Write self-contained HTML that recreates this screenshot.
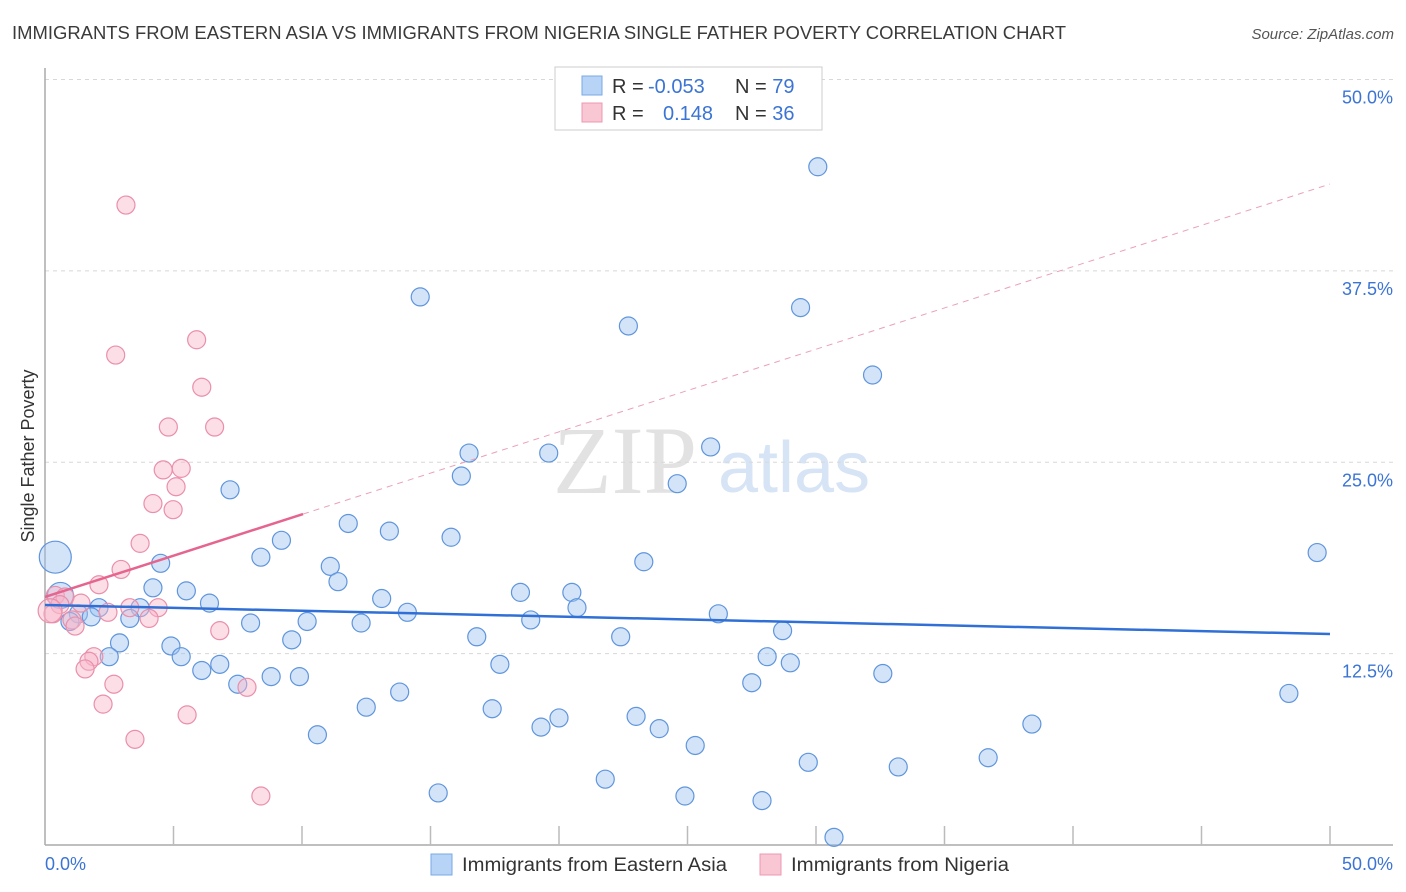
<!DOCTYPE html>
<html><head><meta charset="utf-8"><style>
body{margin:0;background:#fff;font-family:"Liberation Sans",sans-serif;}
svg{display:block}
</style></head><body>
<svg id="chart" width="1406" height="892" xmlns="http://www.w3.org/2000/svg">
<text x="12" y="39" font-size="18" fill="#3a3a3a" textLength="1054" lengthAdjust="spacingAndGlyphs">IMMIGRANTS FROM EASTERN ASIA VS IMMIGRANTS FROM NIGERIA SINGLE FATHER POVERTY CORRELATION CHART</text>
<text x="1394" y="39" font-size="15" font-style="italic" fill="#555" text-anchor="end">Source: ZipAtlas.com</text>
<g>
<text x="553" y="493" font-size="96" font-family="Liberation Serif,serif" fill="#e2e2e2">ZIP</text>
<text x="718" y="492" font-size="72" fill="#d6e4f5">atlas</text>
</g>
<g id="grid"></g>
<g id="axes"></g>
<g id="pts"></g>
<g id="trend"></g>
<text transform="translate(34,456) rotate(-90)" font-size="18" fill="#333" text-anchor="middle">Single Father Poverty</text>
<g>
<rect x="555" y="67" width="267" height="63" fill="#fff" stroke="#ccc"/>
<rect x="582" y="76" width="20" height="19" fill="#b7d3f5" stroke="#7aa8e6"/>
<rect x="582" y="103" width="20" height="19" fill="#f9c6d4" stroke="#ec98b2"/>
<text x="612" y="93" font-size="20" fill="#333">R = <tspan fill="#3b74d4" x="648">-0.053</tspan></text>
<text x="735" y="93" font-size="20" fill="#333">N = <tspan fill="#3b74d4">79</tspan></text>
<text x="612" y="120" font-size="20" fill="#333">R = <tspan fill="#3b74d4" x="663">0.148</tspan></text>
<text x="735" y="120" font-size="20" fill="#333">N = <tspan fill="#3b74d4">36</tspan></text>
</g>
<g>
<rect x="431" y="854" width="21" height="21" fill="#b7d3f5" stroke="#7aa8e6"/>
<text x="462" y="871" font-size="19" fill="#333" textLength="265" lengthAdjust="spacingAndGlyphs">Immigrants from Eastern Asia</text>
<rect x="760" y="854" width="21" height="21" fill="#f9c6d4" stroke="#ec98b2"/>
<text x="791" y="871" font-size="19" fill="#333" textLength="218" lengthAdjust="spacingAndGlyphs">Immigrants from Nigeria</text>
</g>
</svg>
<script>
const yTicks=[12.5,25,37.5,50];
const yTickLabels=["12.5%","25.0%","37.5%","50.0%"];
const xTickLabels=["0.0%","50.0%"];
const blueX=[30.07,14.6,22.7,29.4,32.2,16.5,19.6,25.9,16.2,24.6,7.2,11.8,13.4,15.8,9.2,8.4,4.5,23.3,49.5,11.1,11.4,4.2,5.5,18.5,20.5,13.1,6.4,20.7,3.7,2.1,14.1,26.2,3.3,1.3,1.8,0.97,8.0,10.2,12.3,18.9,28.7,16.8,22.4,9.6,2.9,4.9,2.5,5.3,28.1,29.0,6.8,6.1,17.7,32.6,8.8,9.9,7.5,27.5,48.4,13.8,12.5,17.4,20.0,23.0,19.3,23.9,38.4,10.6,25.3,36.7,29.7,33.2,21.8,15.3,24.9,27.9,30.7,0.4,0.6];
const blueY=[44.3,35.8,33.9,35.1,30.7,25.6,25.6,26.0,24.1,23.6,23.2,21.0,20.5,20.1,19.9,18.8,18.4,18.5,19.1,18.2,17.2,16.8,16.6,16.5,16.5,16.1,15.8,15.5,15.5,15.5,15.2,15.1,14.8,15.1,14.9,14.6,14.5,14.6,14.5,14.7,14.0,13.6,13.6,13.4,13.2,13.0,12.3,12.3,12.3,11.9,11.8,11.4,11.8,11.2,11.0,11.0,10.5,10.6,9.9,9.99,9.0,8.9,8.3,8.4,7.7,7.6,7.9,7.2,6.5,5.7,5.4,5.1,4.3,3.4,3.2,2.9,0.5,18.8,16.3];
const blueR=[9,9,9,9,9,9,9,9,9,9,9,9,9,9,9,9,9,9,9,9,9,9,9,9,9,9,9,9,9,9,9,9,9,9,9,9,9,9,9,9,9,9,9,9,9,9,9,9,9,9,9,9,9,9,9,9,9,9,9,9,9,9,9,9,9,9,9,9,9,9,9,9,9,9,9,9,9,16,13];
const pinkX=[3.15,5.9,2.75,6.1,4.8,6.6,4.6,5.3,5.1,4.2,4.985,3.7,2.96,2.1,0.4,0.78,1.4,0.58,0.31,3.3,4.4,4.05,1.05,2.45,1.17,6.8,1.9,1.71,1.56,2.68,2.26,5.53,7.86,3.5,8.4,0.2];
const pinkY=[41.8,33.0,32.0,29.9,27.3,27.3,24.5,24.6,23.4,22.3,21.9,19.7,18.0,17.0,16.3,16.2,15.8,15.7,15.1,15.5,15.5,14.8,14.7,15.2,14.3,14.0,12.3,12.0,11.5,10.5,9.2,8.5,10.3,6.9,3.2,15.3];
const pinkR=[9,9,9,9,9,9,9,9,9,9,9,9,9,9,9,9,9,9,9,9,9,9,9,9,9,9,9,9,9,9,9,9,9,9,9,12];
const blueTrend=[15.68,13.78];
const pinkTrend=[16.2,43.17];
const pinkSolidEnd=10.04;
const X=v=>45+v*25.7, Y=v=>845-v*15.31;
const NS="http://www.w3.org/2000/svg";
function mk(p,t,a){const e=document.createElementNS(NS,t);for(const k in a)e.setAttribute(k,a[k]);p.appendChild(e);return e;}
const grid=document.getElementById('grid'),axes=document.getElementById('axes'),pts=document.getElementById('pts'),trend=document.getElementById('trend');
yTicks.forEach((t,i)=>{
 const l=mk(grid,'line',{x1:45,x2:1393,y1:Y(t),y2:Y(t),stroke:'#d8d8d8','stroke-dasharray':'4,4'});
 
 
 const tx=mk(grid,'text',{x:1393,y:Y(t)+24,'font-size':18,fill:'#3b74d4','text-anchor':'end'});
 tx.textContent=yTickLabels[i];
 
 
});
const ya=mk(axes,'line',{x1:45,x2:45,y1:68,y2:845,stroke:'#aaa','stroke-width':1.5});


const xa=mk(axes,'line',{x1:45,x2:1393,y1:845,y2:845,stroke:'#aaa','stroke-width':1.5});


for(let i=1;i<=10;i++){const tk=mk(axes,'line',{x1:X(i*5),x2:X(i*5),y1:826,y2:845,stroke:'#bbb','stroke-width':1.5});
 
 }
const xl0=mk(axes,'text',{x:45,y:870,'font-size':18,fill:'#3b74d4'});xl0.textContent=xTickLabels[0];


const xl1=mk(axes,'text',{x:1393,y:870,'font-size':18,fill:'#3b74d4','text-anchor':'end'});xl1.textContent=xTickLabels[1];


blueX.forEach((v,i)=>{const c=mk(pts,'circle',{cx:X(v),cy:Y(blueY[i]),r:blueR[i],fill:'rgba(160,196,240,0.45)',stroke:'#5f95dd','stroke-width':1.2});
 
 });
pinkX.forEach((v,i)=>{const c=mk(pts,'circle',{cx:X(v),cy:Y(pinkY[i]),r:pinkR[i],fill:'rgba(248,182,202,0.45)',stroke:'#ea8fab','stroke-width':1.2});
 
 });
const bt=mk(trend,'line',{x1:X(0),y1:Y(blueTrend[0]),x2:X(50),y2:Y(blueTrend[1]),stroke:'#2f6fd6','stroke-width':2.5});


const py=x=>pinkTrend[0]+(pinkTrend[1]-pinkTrend[0])*x/50;
const pd=mk(trend,'line',{x1:X(pinkSolidEnd),y1:Y(py(pinkSolidEnd)),x2:X(50),y2:Y(pinkTrend[1]),stroke:'#eaa0b8','stroke-width':1,'stroke-dasharray':'6,5'});


const ps=mk(trend,'line',{x1:X(0),y1:Y(pinkTrend[0]),x2:X(pinkSolidEnd),y2:Y(py(pinkSolidEnd)),stroke:'#e5658f','stroke-width':2.5});


</script>
</body></html>
